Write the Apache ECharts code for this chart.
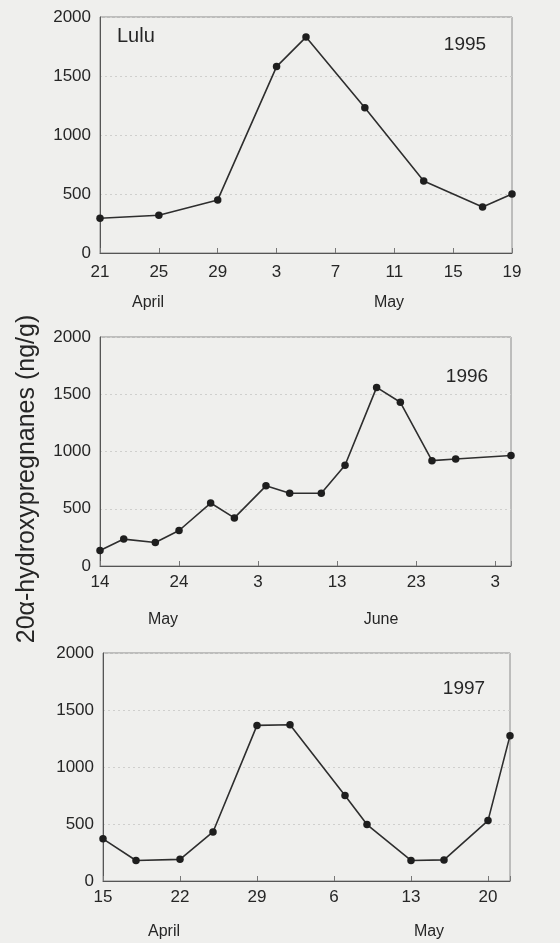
<!DOCTYPE html>
<html>
<head>
<meta charset="utf-8">
<script src="https://cdn.jsdelivr.net/npm/echarts@6/dist/echarts.min.js"></script>
<style>
  html, body { margin: 0; padding: 0; background: #efefed; }
  #chart { width: 560px; height: 943px; }
</style>
</head>
<body>
<div id="chart"></div>
<script>
// Faecal 20α-hydroxypregnane concentrations for Lulu over three seasons.
const dates1995 = ['1995-04-21', '1995-04-25', '1995-04-29', '1995-05-03', '1995-05-05',
                   '1995-05-09', '1995-05-13', '1995-05-17', '1995-05-19'];
const values1995 = [295, 320, 450, 1580, 1830, 1230, 610, 390, 500];

const dates1996 = ['1996-05-14', '1996-05-17', '1996-05-21', '1996-05-24', '1996-05-28',
                   '1996-05-31', '1996-06-04', '1996-06-07', '1996-06-11', '1996-06-14',
                   '1996-06-18', '1996-06-21', '1996-06-25', '1996-06-28', '1996-07-05'];
const values1996 = [135, 235, 205, 310, 550, 420, 700, 635, 635, 880, 1560, 1430, 920, 935, 965];

const dates1997 = ['1997-04-15', '1997-04-18', '1997-04-22', '1997-04-25', '1997-04-29',
                   '1997-05-02', '1997-05-07', '1997-05-09', '1997-05-13', '1997-05-16',
                   '1997-05-20', '1997-05-22'];
const values1997 = [370, 180, 190, 430, 1365, 1370, 750, 495, 180, 185, 530, 1275];

// Date axis span and tick step (days) for each season
const axisRanges = [
  { start: '1995-04-21', end: '1995-05-19', step: 4 },
  { start: '1996-05-14', end: '1996-07-05', step: 10 },
  { start: '1997-04-15', end: '1997-05-22', step: 7 }
];
const yTicks = [0, 500, 1000, 1500, 2000];
const yearLabels = ['1995', '1996', '1997'];
const monthLabels = [['April', 'May'], ['May', 'June'], ['April', 'May']];
const animalName = 'Lulu';
const yTitle = '20α-hydroxypregnanes (ng/g)';

const DAY = 86400000;
const toMs = s => Date.parse(s + 'T00:00:00Z');
const dayOffset = (s, start) => Math.round((toMs(s) - toMs(start)) / DAY);

const seasons = [
  { dates: dates1995, values: values1995 },
  { dates: dates1996, values: values1996 },
  { dates: dates1997, values: values1997 }
];

// panel layouts in pixels
const grids = [
  { left: 100, top: 17, width: 412, height: 236, labelMargin: 11 },
  { left: 100, top: 337, width: 411, height: 229, labelMargin: 8 },
  { left: 103, top: 653, width: 407, height: 228, labelMargin: 8 }
];

const FONT = '"Liberation Sans", Arial, sans-serif';
const TEXT = '#262626';

const option = {
  backgroundColor: '#efefed',
  animation: false,
  grid: grids.map(g => ({
    left: g.left, top: g.top, width: g.width, height: g.height,
    show: true, borderColor: '#8a8a8a', borderWidth: 1, backgroundColor: 'transparent'
  })),
  xAxis: axisRanges.map((r, i) => {
    const startMs = toMs(r.start);
    return {
      type: 'value', gridIndex: i,
      min: 0, max: dayOffset(r.end, r.start), interval: r.step,
      axisLine: { show: true, onZero: false, lineStyle: { color: '#555', width: 1 } },
      axisTick: { show: true, inside: true, length: 5, lineStyle: { color: '#777' } },
      splitLine: { show: false },
      axisLabel: {
        margin: grids[i].labelMargin, fontSize: 17, color: TEXT, fontFamily: FONT,
        showMaxLabel: true,
        formatter: v => (v % r.step === 0 ? String(new Date(startMs + v * DAY).getUTCDate()) : '')
      }
    };
  }),
  yAxis: grids.map((g, i) => ({
    type: 'value', gridIndex: i,
    min: yTicks[0], max: yTicks[yTicks.length - 1], interval: yTicks[1] - yTicks[0],
    axisLine: { show: true, lineStyle: { color: '#555', width: 1 } },
    axisTick: { show: false },
    splitLine: { show: true, lineStyle: { color: '#cfcfcd', type: [2, 3], width: 1 } },
    axisLabel: { margin: 9, fontSize: 17, color: TEXT, fontFamily: FONT, formatter: v => String(v) }
  })),
  series: seasons.map((s, i) => ({
    type: 'line', xAxisIndex: i, yAxisIndex: i,
    data: s.dates.map((d, k) => [dayOffset(d, axisRanges[i].start), s.values[k]]),
    symbol: 'circle', symbolSize: 7.5, clip: false,
    itemStyle: { color: '#1e1e1e' },
    lineStyle: { color: '#2e2e2e', width: 1.6 }
  })),
  graphic: [
    { type: 'text', left: 117, top: 26, style: { text: animalName, font: '20px ' + FONT, fill: TEXT } },
    { type: 'text', x: 465, y: 45, style: { text: yearLabels[0], font: '19px ' + FONT, fill: TEXT, textAlign: 'center', textVerticalAlign: 'middle' } },
    { type: 'text', x: 467, y: 377, style: { text: yearLabels[1], font: '19px ' + FONT, fill: TEXT, textAlign: 'center', textVerticalAlign: 'middle' } },
    { type: 'text', x: 464, y: 689, style: { text: yearLabels[2], font: '19px ' + FONT, fill: TEXT, textAlign: 'center', textVerticalAlign: 'middle' } },
    { type: 'text', x: 148, y: 303, style: { text: monthLabels[0][0], font: '16px ' + FONT, fill: TEXT, textAlign: 'center', textVerticalAlign: 'middle' } },
    { type: 'text', x: 389, y: 303, style: { text: monthLabels[0][1], font: '16px ' + FONT, fill: TEXT, textAlign: 'center', textVerticalAlign: 'middle' } },
    { type: 'text', x: 163, y: 620, style: { text: monthLabels[1][0], font: '16px ' + FONT, fill: TEXT, textAlign: 'center', textVerticalAlign: 'middle' } },
    { type: 'text', x: 381, y: 620, style: { text: monthLabels[1][1], font: '16px ' + FONT, fill: TEXT, textAlign: 'center', textVerticalAlign: 'middle' } },
    { type: 'text', x: 164, y: 932, style: { text: monthLabels[2][0], font: '16px ' + FONT, fill: TEXT, textAlign: 'center', textVerticalAlign: 'middle' } },
    { type: 'text', x: 429, y: 932, style: { text: monthLabels[2][1], font: '16px ' + FONT, fill: TEXT, textAlign: 'center', textVerticalAlign: 'middle' } },
    { type: 'text', x: 27, y: 479, rotation: Math.PI / 2,
      style: { text: yTitle, font: '25px ' + FONT, fill: TEXT, textAlign: 'center', textVerticalAlign: 'middle' } }
  ]
};

const chart = echarts.init(document.getElementById('chart'), null, { renderer: 'canvas' });
chart.setOption(option);
</script>
</body>
</html>
